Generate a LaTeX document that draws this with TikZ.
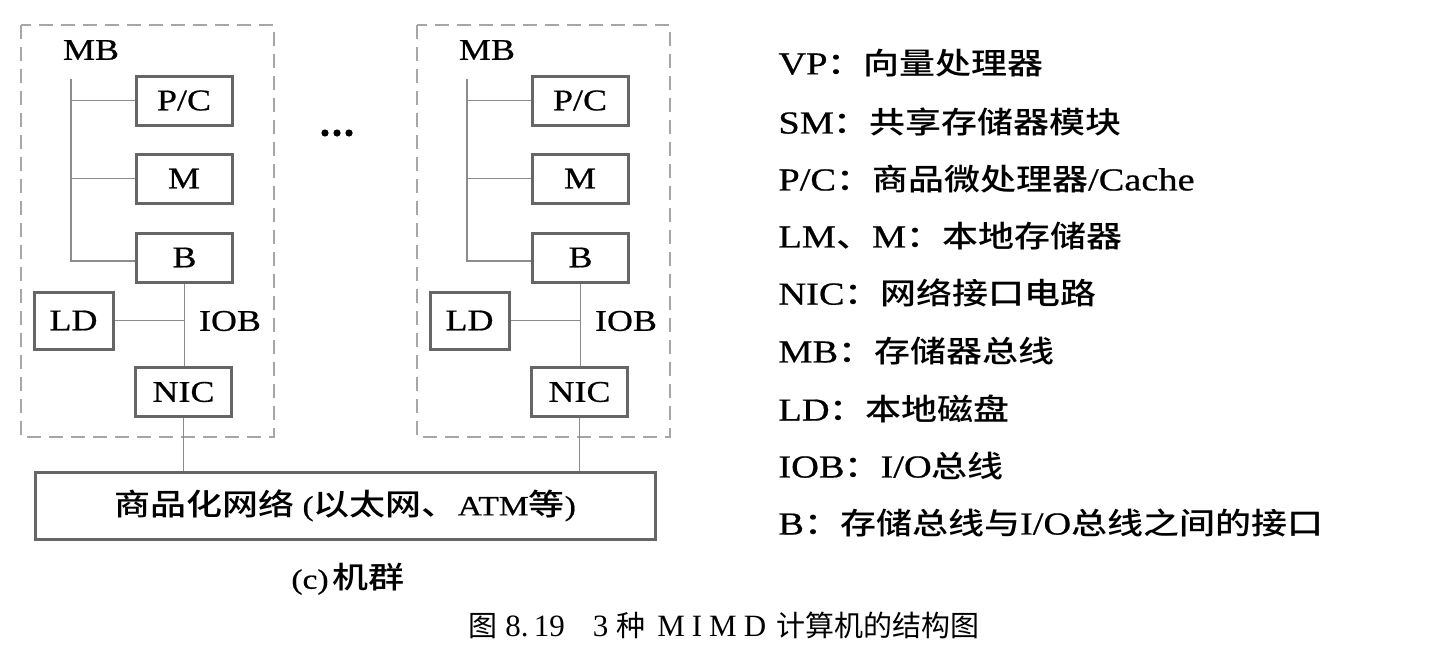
\documentclass[tikz,border=0pt]{standalone}
\usepackage{fontspec}
\setmainfont[FakeStretch=1.2,FakeBold=0.6]{Liberation Serif}
\newfontfamily\cjk[FakeStretch=1.2,BoldFont={* Medium}]{Noto Sans CJK SC}
\newfontfamily\capserif{Liberation Serif}
\newfontfamily\capcjk{Noto Sans CJK SC}
\newcommand{\zh}[1]{{\cjk\bfseries\fontsize{15}{15}\selectfont #1}}
\newcommand{\capzh}[1]{{\capcjk\fontsize{14.5}{14.5}\selectfont #1}}
\begin{document}
\begin{tikzpicture}[x=0.5pt,y=-0.5pt,
  module/.style={draw=black!35, line width=0.7pt, dash pattern=on 7pt off 4pt},
  unit/.style={draw=black!60, line width=1.5pt, fill=white, inner sep=0pt,
    minimum width=48pt, minimum height=24.5pt, font=\fontsize{15}{15}\selectfont},
  lbl/.style={inner sep=0pt, font=\fontsize{15}{15}\selectfont},
  wire/.style={draw=black!45, line width=0.7pt},
  legend/.style={inner sep=0pt, anchor=west, font=\fontsize{16}{16}\selectfont}]
\fill[white] (0,0) rectangle (1440,664);
\useasboundingbox (0,0) rectangle (1440,664);

% two cluster nodes, identical apart from their horizontal offset
\foreach \i/\dx in {1/0,2/396}{
\begin{scope}[xshift={\dx*0.5pt}]
  \draw[module] (21,25) rectangle (274,437);
  \node[lbl] (mb\i) at (91,50) {MB};
  \node[unit] (pc\i) at (184,100.5) {P/C};
  \node[unit] (m\i) at (184,178.5) {M};
  \node[unit] (b\i) at (184.5,257.5) {B};
  \node[unit, minimum width=39.5pt, minimum height=28.5pt] (ld\i) at (73.5,320.5) {LD};
  \node[unit] (nic\i) at (183.5,392) {NIC};
  \node[lbl] (iob\i) at (230,321) {IOB};
  \coordinate (bt\i) at (71,79);
  \coordinate (bb\i) at (71,261);
  % memory bus
  \draw[wire] (bt\i) -- (bb\i) -- (bb\i -| b\i.west);
  \draw[wire] (bt\i |- pc\i.west) -- (pc\i.west);
  \draw[wire] (bt\i |- m\i.west) -- (m\i.west);
  % I/O bus
  \draw[wire] (b\i.south) -- (b\i.south |- nic\i.north);
  \draw[wire] (ld\i.east) -- (ld\i.east -| b\i.south);
\end{scope}}

% ellipsis between the nodes
\fill (325,133) circle (3.6);
\fill (337,133) circle (3.6);
\fill (349,133) circle (3.6);

% commodity network
\node[unit, minimum width=310pt, minimum height=33.5pt, font=\fontsize{14}{14}\selectfont]
  (net) at (345,505.5) {\zh{商品化网络} (\zh{以太网、}ATM\zh{等})};
\draw[wire] (nic1.south) -- (nic1.south |- net.north);
\draw[wire] (nic2.south) -- (nic2.south |- net.north);

\node[lbl, font=\fontsize{14}{14}\selectfont] (sub) at (348,579) {(c)\hspace{2pt}\zh{机群}};

% legend
\begin{scope}[every node/.style={legend}]
\node (l1) at (778,63)  {VP\zh{：向量处理器}};
\node (l2) at (778,122) {SM\zh{：共享存储器模块}};
\node (l3) at (778,179) {P/C\zh{：商品微处理器}/Cache};
\node (l4) at (778,236) {LM\zh{、}M\zh{：本地存储器}};
\node (l5) at (778,293) {NIC\zh{：网络接口电路}};
\node (l6) at (778,351) {MB\zh{：存储器总线}};
\node (l7) at (778,409) {LD\zh{：本地磁盘}};
\node (l8) at (778,466) {IOB\zh{：}I/O\zh{总线}};
\node (l9) at (778,523) {B\zh{：存储总线与}I/O\zh{总线之间的接口}};
\end{scope}

% figure caption
\node[inner sep=0pt, anchor=west, font=\capserif\fontsize{15.5}{15.5}\selectfont] (cap) at (468,625)
  {\capzh{图}\hspace{4pt}8.\,19\hspace{14pt}3\hspace{4pt}\capzh{种}\hspace{6pt}M\hspace{3.5pt}I\hspace{3.5pt}M\hspace{3.5pt}D\hspace{5pt}\capzh{计算机的结构图}};
\end{tikzpicture}
\end{document}
